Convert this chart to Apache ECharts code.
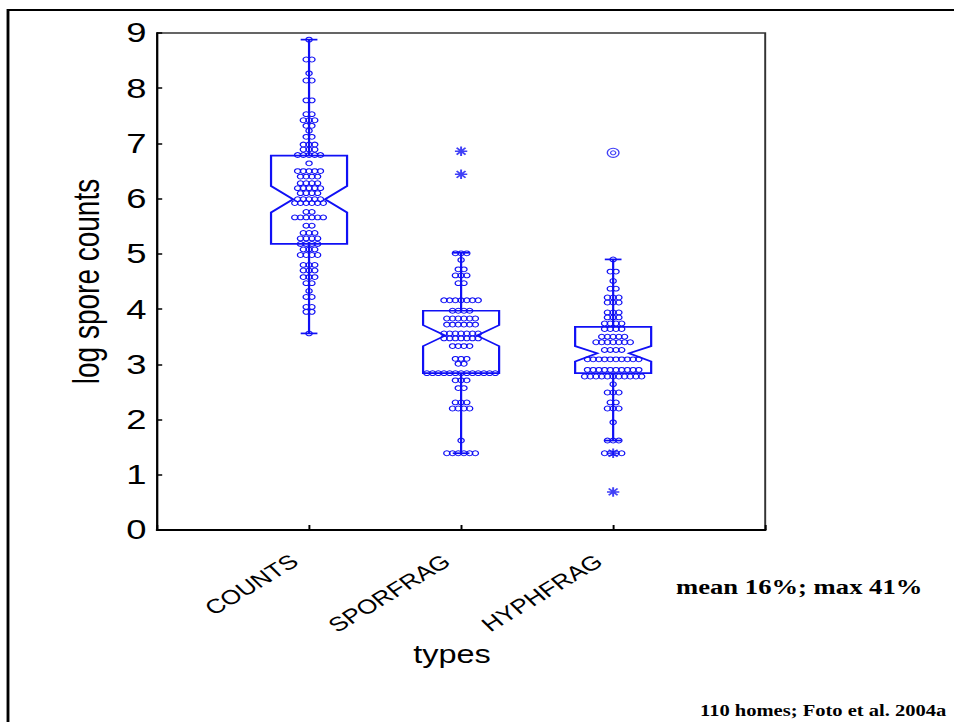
<!DOCTYPE html>
<html>
<head>
<meta charset="utf-8">
<script src="https://cdn.jsdelivr.net/npm/echarts@6/dist/echarts.min.js"></script>
<style>
  html, body { margin: 0; padding: 0; background: #fff; }
  #wrap { width: 954px; height: 722px; overflow: hidden; position: relative; background: #fff; }
  #chart { height: 722px; transform-origin: 0 0; }
</style>
</head>
<body>
<div id="wrap"><div id="chart"></div></div>
<script>
// ---- data -------------------------------------------------------------
const categories = ['COUNTS', 'SPORFRAG', 'HYPHFRAG'];
const yTicks = [0, 1, 2, 3, 4, 5, 6, 7, 8, 9];

// dot plot: value levels and how many homes sit on each level
const countsLevels = [8.88, 8.52, 8.27, 8.14, 7.78, 7.53, 7.42, 7.32, 7.23, 7.12, 6.98, 6.89, 6.79, 6.64,
  6.50, 6.40, 6.28, 6.19, 6.10, 5.99, 5.92, 5.76, 5.66, 5.51, 5.38, 5.28, 5.18, 5.08, 4.98, 4.80,
  4.70, 4.58, 4.47, 4.33, 4.22, 4.04, 3.95, 3.56];
const countsStack = [1, 2, 1, 2, 2, 2, 3, 2, 1, 2, 3, 3, 5, 1,
  5, 4, 4, 5, 4, 5, 6, 2, 6, 2, 3, 4, 4, 3, 4, 3,
  3, 3, 2, 1, 2, 2, 2, 1];

const sporLevels = [5.01, 4.89, 4.72, 4.61, 4.47, 4.16, 3.97, 3.83, 3.72, 3.56, 3.47, 3.33, 3.10, 3.01,
  2.84, 2.71, 2.57, 2.31, 2.20, 1.62, 1.39];
const sporStack = [3, 1, 2, 3, 2, 7, 4, 6, 6, 7, 7, 4, 3, 2,
  13, 3, 2, 3, 4, 1, 6];

const hyphLevels = [4.90, 4.68, 4.51, 4.37, 4.21, 4.12, 3.94, 3.85, 3.74, 3.64, 3.50, 3.40, 3.26, 3.09,
  2.90, 2.78, 2.64, 2.49, 2.31, 2.20, 1.95, 1.62, 1.39];
const hyphStack = [1, 2, 1, 2, 3, 3, 3, 3, 4, 4, 5, 7, 4, 10,
  10, 11, 1, 3, 2, 3, 1, 3, 4];

// notched boxes: [whisker low, Q1, notch low, median, notch high, Q3, whisker high]
const countsBox = [3.56, 5.18, 5.75, 5.99, 6.23, 6.78, 8.88];
const sporBox = [1.39, 2.84, 3.33, 3.52, 3.71, 3.97, 5.02];
const hyphBox = [1.62, 2.84, 3.05, 3.20, 3.33, 3.68, 4.90];

// outside values: [category number, value]
const starOutliers = [[2, 6.86], [2, 6.44], [3, 1.39], [3, 0.69]];
const farOutliers = [[3, 6.83]];

// ---- drawing ----------------------------------------------------------
const S = 1.3;                 // horizontal stretch of the whole drawing
const BLUE = '#1010f5';
const DOT_PITCH = 0.0375;      // horizontal spacing of stacked dots (x units)
const BOX_HALF = 0.25;         // half box width (x units)
const CAP_HALF = 0.055;        // half whisker-cap width (x units)
const WAIST = 0.42;            // notch waist relative to box half width

const chartEl = document.getElementById('chart');
chartEl.style.width = (954 / S) + 'px';
chartEl.style.transform = 'scaleX(' + S + ')';

function dotData(catNo, levels, stack) {
  const out = [];
  levels.forEach((v, i) => {
    const n = stack[i];
    for (let k = 0; k < n; k++) out.push([catNo + (k - (n - 1) / 2) * DOT_PITCH, v]);
  });
  return out;
}

const dots = [].concat(
  dotData(1, countsLevels, countsStack),
  dotData(2, sporLevels, sporStack),
  dotData(3, hyphLevels, hyphStack)
);

const boxes = [countsBox, sporBox, hyphBox].map((b, i) => [i + 1].concat(b));

function renderBox(params, api) {
  const x = api.value(0);
  const wl = api.value(1), q1 = api.value(2), nl = api.value(3), med = api.value(4),
        nh = api.value(5), q3 = api.value(6), wh = api.value(7);
  const cx = api.coord([x, 0])[0];
  const y = v => api.coord([x, v])[1];
  const hw = api.size([BOX_HALF, 0])[0];
  const ww = hw * WAIST;
  const ch = api.size([CAP_HALF, 0])[0];
  const style = { stroke: BLUE, fill: 'none', lineWidth: 1.7 };
  return {
    type: 'group',
    children: [
      { type: 'polygon', shape: { points: [
          [cx - hw, y(q3)], [cx + hw, y(q3)], [cx + hw, y(nh)], [cx + ww, y(med)], [cx + hw, y(nl)],
          [cx + hw, y(q1)], [cx - hw, y(q1)], [cx - hw, y(nl)], [cx - ww, y(med)], [cx - hw, y(nh)]
        ] }, style: style },
      { type: 'line', shape: { x1: cx, y1: y(q3), x2: cx, y2: y(wh) }, style: style },
      { type: 'line', shape: { x1: cx, y1: y(q1), x2: cx, y2: y(wl) }, style: style },
      { type: 'line', shape: { x1: cx - ch, y1: y(wh), x2: cx + ch, y2: y(wh) }, style: style },
      { type: 'line', shape: { x1: cx - ch, y1: y(wl), x2: cx + ch, y2: y(wl) }, style: style }
    ]
  };
}

const SANS = '"Liberation Sans", Arial, sans-serif';
const SERIF = '"Liberation Serif", "Times New Roman", serif';

const chart = echarts.init(chartEl, null, { renderer: 'svg' });
chart.setOption({
  animation: false,
  grid: { left: 157 / S, right: 189 / S, top: 33, bottom: 192, show: true,
          borderColor: '#333', borderWidth: 1.5, backgroundColor: 'transparent' },
  xAxis: {
    type: 'value', min: 0, max: 4, interval: 1,
    axisLine: { show: true, lineStyle: { color: '#000', width: 2 } },
    axisTick: { show: true, inside: true, length: 5, lineStyle: { color: '#000', width: 1.5 } },
    splitLine: { show: false },
    axisLabel: {
      formatter: v => categories[v - 1] || '',
      rotate: 38, margin: 20, padding: [0, 14, 0, 0],
      fontSize: 20, fontFamily: SANS, color: '#000'
    },
    name: 'types', nameLocation: 'middle', nameGap: 110,
    nameTextStyle: { fontSize: 25, fontFamily: SANS, color: '#000', padding: [0, 14, 0, 0] }
  },
  yAxis: {
    type: 'value', min: yTicks[0], max: yTicks[yTicks.length - 1], interval: 1,
    axisLine: { show: true, lineStyle: { color: '#000', width: 1.6 } },
    axisTick: { show: true, inside: true, length: 4, lineStyle: { color: '#000', width: 1.5 } },
    splitLine: { show: false },
    axisLabel: { margin: 8, fontSize: 28, fontFamily: SANS, color: '#000' },
    name: 'log spore counts', nameLocation: 'middle', nameGap: 40, nameRotate: 90,
    nameTextStyle: { fontSize: 28, fontFamily: SANS, color: '#000' }
  },
  graphic: [
    { type: 'rect', shape: { x: 8 / S, y: 10, width: 2000, height: 2000 },
      style: { fill: 'none', stroke: '#000', lineWidth: 2.2 }, silent: true },
    { type: 'text', x: 676 / S, y: 587,
      style: { text: 'mean 16%; max 41%', font: 'bold 20.5px ' + SERIF, fill: '#000', verticalAlign: 'middle' } },
    { type: 'text', x: 700 / S, y: 711,
      style: { text: '110 homes; Foto et al. 2004a', font: 'bold 15.8px ' + SERIF, fill: '#000', verticalAlign: 'middle' } }
  ],
  series: [
    { type: 'custom', renderItem: renderBox, data: boxes, z: 2, silent: true },
    { type: 'scatter', data: dots, symbol: 'circle', symbolSize: 4.8, z: 3, silent: true,
      itemStyle: { color: 'rgba(0,0,0,0)', borderColor: BLUE, borderWidth: 1, opacity: 1 } },
    { type: 'scatter', data: starOutliers, z: 4, silent: true, symbolSize: 9.5,
      symbol: 'path://M0,-5L0,5M-5,0L5,0M-3.6,-3.6L3.6,3.6M-3.6,3.6L3.6,-3.6',
      itemStyle: { color: 'rgba(0,0,0,0)', borderColor: BLUE, borderWidth: 1.5 } },
    { type: 'scatter', data: farOutliers, z: 4, silent: true, symbol: 'circle', symbolSize: 9,
      itemStyle: { color: 'rgba(0,0,0,0)', borderColor: BLUE, borderWidth: 1 } },
    { type: 'scatter', data: farOutliers, z: 4, silent: true, symbol: 'circle', symbolSize: 4,
      itemStyle: { color: 'rgba(0,0,0,0)', borderColor: BLUE, borderWidth: 1 } }
  ]
});
</script>
</body>
</html>
